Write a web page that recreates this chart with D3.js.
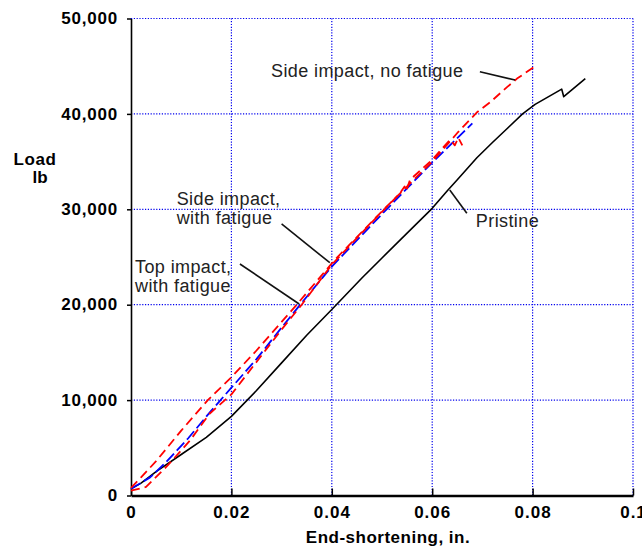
<!DOCTYPE html>
<html>
<head>
<meta charset="utf-8">
<script src="https://cdn.jsdelivr.net/npm/d3@7"></script>
<style>
  body { margin: 0; background: #fff; }
  svg { display: block; }
</style>
</head>
<body>
<svg id="chart"></svg>
<script>
// end-shortening (in.) vs load (lb)
const pristineX    = [0, 0.002, 0.005, 0.01, 0.015, 0.02, 0.025, 0.03, 0.035, 0.04, 0.046, 0.05, 0.055, 0.06, 0.0631, 0.065, 0.0689, 0.072, 0.075, 0.078, 0.0805, 0.0858, 0.0862, 0.0905];
const pristineLoad = [700, 1300, 2500, 4300, 6100, 8300, 11000, 13900, 16800, 19500, 22800, 24900, 27500, 30100, 32000, 33100, 35400, 37000, 38500, 40000, 41000, 42600, 41800, 43700];

const sideNoFatX    = [0, 0.002, 0.005, 0.01, 0.0153, 0.02, 0.025, 0.03, 0.033, 0.0406, 0.05, 0.06, 0.065, 0.069, 0.0715, 0.0749, 0.0769, 0.0805];
const sideNoFatLoad = [800, 1900, 3600, 6800, 10000, 12400, 15200, 18200, 20000, 24700, 29800, 35000, 38000, 40200, 41200, 42800, 43700, 45000];

const topFatX    = [0, 0.0038, 0.007, 0.0114, 0.016, 0.02, 0.025, 0.03, 0.0337, 0.04, 0.05, 0.06, 0.068];
const topFatLoad = [700, 1900, 3500, 6000, 8900, 11300, 14300, 17600, 20000, 24000, 29500, 34900, 39000];

const sideFatX    = [0, 0.003, 0.0074, 0.0118, 0.0157, 0.02, 0.025, 0.03, 0.034, 0.04, 0.047, 0.0536, 0.0545, 0.0548, 0.0556, 0.06, 0.0622, 0.0636, 0.0645, 0.0652, 0.066];
const sideFatLoad = [500, 900, 3200, 5800, 8600, 10600, 14000, 17400, 20000, 24200, 28100, 31700, 32400, 31900, 33100, 35200, 36500, 37300, 36700, 37500, 36700];

const xTicks = [0, 0.02, 0.04, 0.06, 0.08, 0.1];
const xTickLabels = ["0", "0.02", "0.04", "0.06", "0.08", "0.1"];
const yTicks = [0, 10000, 20000, 30000, 40000, 50000];
const yTickLabels = ["0", "10,000", "20,000", "30,000", "40,000", "50,000"];

// labels: text lines, text start (x, load of first baseline), leader from -> to
const annoText  = [["Side impact, no fatigue"], ["Side impact,", "with fatigue"], ["Top impact,", "with fatigue"], ["Pristine"]];
const annoTextX = [0.0279, 0.0091, 0.0008, 0.0687];
const annoTextY = [43900, 30450, 23290, 28180];
const annoFromX = [0.0695, 0.0300, 0.0217, 0.0635];
const annoFromY = [44420, 28460, 24270, 32020];
const annoToX   = [0.0765, 0.0396, 0.0335, 0.0669];
const annoToY   = [43550, 24400, 20070, 29580];

const width = 642, height = 552;
const margin = {top: 18.5, right: 9, bottom: 56.5, left: 131};

const svg = d3.select("#chart").attr("width", width).attr("height", height);

const x = d3.scaleLinear().domain([0, 0.1]).range([margin.left, width - margin.right]);
const y = d3.scaleLinear().domain([0, 50000]).range([height - margin.bottom, margin.top]);

// grid
svg.append("g")
  .selectAll("line")
  .data(xTicks.slice(1))
  .join("line")
    .attr("x1", d => x(d)).attr("x2", d => x(d))
    .attr("y1", y(0)).attr("y2", y(50000))
    .attr("stroke", "#0000ee").attr("stroke-width", 1.2)
    .attr("stroke-dasharray", "1.2,1.6");

svg.append("g")
  .selectAll("line")
  .data(yTicks.slice(1))
  .join("line")
    .attr("y1", d => y(d)).attr("y2", d => y(d))
    .attr("x1", x(0)).attr("x2", x(0.1))
    .attr("stroke", "#0000ee").attr("stroke-width", 1.2)
    .attr("stroke-dasharray", "1.2,1.6");

// axes
const tickFont = "'Liberation Sans', Arial, sans-serif";

const xAxis = svg.append("g")
  .attr("transform", `translate(0,${y(0)})`)
  .call(d3.axisBottom(x).tickValues(xTicks).tickSizeInner(-7).tickSizeOuter(0)
        .tickFormat((d, i) => xTickLabels[i]));
xAxis.select(".domain").attr("stroke", "#000").attr("stroke-width", 2.6);
xAxis.selectAll(".tick line").attr("stroke", "#000").attr("stroke-width", 1.5);
xAxis.selectAll(".tick text")
  .attr("y", 22).attr("dy", 0)
  .attr("font-family", tickFont).attr("font-weight", "bold")
  .attr("font-size", 17).attr("letter-spacing", 1).attr("fill", "#000");

const yAxis = svg.append("g")
  .attr("transform", `translate(${x(0)},0)`)
  .call(d3.axisLeft(y).tickValues(yTicks).tickSizeInner(4).tickSizeOuter(0)
        .tickFormat((d, i) => yTickLabels[i]));
yAxis.select(".domain").attr("stroke", "#000").attr("stroke-width", 1.6);
yAxis.selectAll(".tick line").attr("stroke", "#000").attr("stroke-width", 1.5);
yAxis.selectAll(".tick text")
  .attr("x", -13).attr("dy", "0.3em")
  .attr("font-family", tickFont).attr("font-weight", "bold")
  .attr("font-size", 17).attr("letter-spacing", 0.8).attr("fill", "#000");

// axis titles
svg.append("text")
  .attr("x", 388).attr("y", 543)
  .attr("text-anchor", "middle")
  .attr("font-family", tickFont).attr("font-weight", "bold")
  .attr("font-size", 17).attr("letter-spacing", 0.5)
  .text("End-shortening, in.");

svg.append("text")
  .attr("x", 35).attr("y", 165)
  .attr("text-anchor", "middle")
  .attr("font-family", tickFont).attr("font-weight", "bold")
  .attr("font-size", 17).attr("letter-spacing", 0.6)
  .text("Load");
svg.append("text")
  .attr("x", 40).attr("y", 183)
  .attr("text-anchor", "middle")
  .attr("font-family", tickFont).attr("font-weight", "bold")
  .attr("font-size", 17)
  .text("lb");

// curves
const series = [
  {xs: pristineX, ys: pristineLoad, color: "#000", dash: null, w: 1.6},
  {xs: topFatX, ys: topFatLoad, color: "#0000ff", dash: "11,4", w: 1.8},
  {xs: sideFatX, ys: sideFatLoad, color: "#ff0000", dash: "9,5", w: 1.8},
  {xs: sideNoFatX, ys: sideNoFatLoad, color: "#ff0000", dash: "9,5", w: 1.8}
];

const line = d3.line().x(d => x(d[0])).y(d => y(d[1]));

svg.append("g")
  .attr("fill", "none")
  .attr("stroke-linejoin", "round")
  .selectAll("path")
  .data(series)
  .join("path")
    .attr("stroke", d => d.color)
    .attr("stroke-width", d => d.w)
    .attr("stroke-dasharray", d => d.dash)
    .attr("d", d => line(d3.zip(d.xs, d.ys)));

// annotations
const ann = svg.append("g");
ann.selectAll("line")
  .data(d3.range(annoText.length))
  .join("line")
    .attr("x1", i => x(annoFromX[i])).attr("y1", i => y(annoFromY[i]))
    .attr("x2", i => x(annoToX[i])).attr("y2", i => y(annoToY[i]))
    .attr("stroke", "#111").attr("stroke-width", 1.6);

ann.selectAll("text")
  .data(d3.range(annoText.length))
  .join("text")
    .attr("font-family", "'Liberation Sans', Arial, sans-serif")
    .attr("font-size", 18)
    .attr("letter-spacing", 0.4)
    .attr("fill", "#222")
  .selectAll("tspan")
  .data(i => annoText[i].map((t, k) => ({t, k, i})))
  .join("tspan")
    .attr("x", d => x(annoTextX[d.i]))
    .attr("y", d => y(annoTextY[d.i]) + d.k * 18.5)
    .text(d => d.t);
</script>
</body>
</html>
